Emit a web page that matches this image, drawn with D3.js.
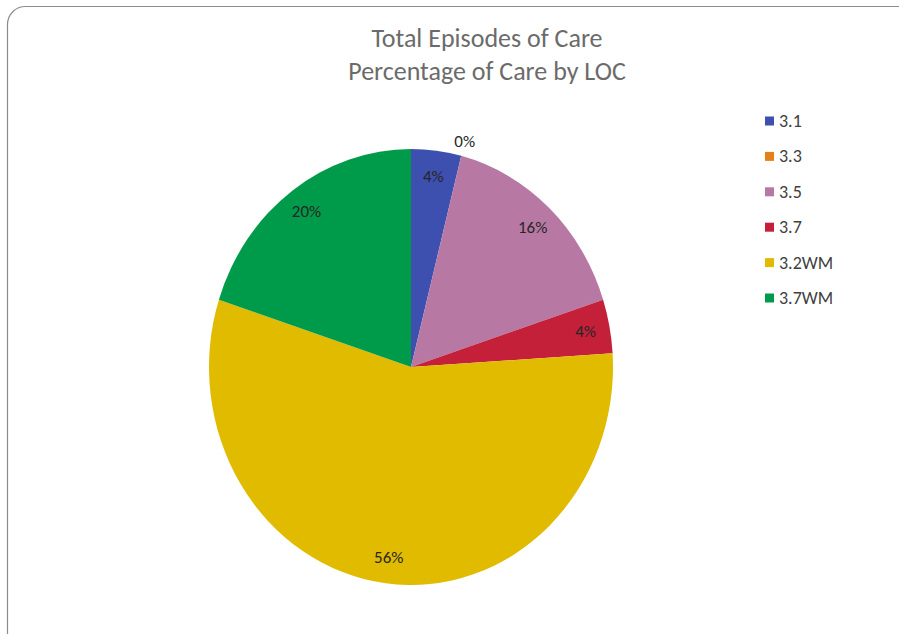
<!DOCTYPE html>
<html>
<head>
<meta charset="utf-8">
<script src="https://cdn.jsdelivr.net/npm/d3@7"></script>
<style>
  html, body { margin: 0; padding: 0; background: #fff; }
  svg { display: block; font-family: Carlito, Calibri, Lato, "Open Sans", sans-serif; }
</style>
</head>
<body>
<svg id="chart" width="899" height="634"></svg>
<script>
// Level-of-care categories and their share of total episodes (%)
const categories = ["3.1", "3.3", "3.5", "3.7", "3.2WM", "3.7WM"];
const shares = [4, 0, 16, 4, 56, 20];
const colors = ["#3d50b0", "#e3811c", "#b778a3", "#c5203a", "#e0bb00", "#009b4a"];
const titleLines = ["Total Episodes of Care", "Percentage of Care by LOC"];

const data = categories.map((c, i) => ({ cat: c, value: shares[i], color: colors[i] }));

const svg = d3.select("#chart");

// Chart frame
svg.append("rect")
  .attr("x", 7.5).attr("y", 6.5)
  .attr("width", 920).attr("height", 660)
  .attr("rx", 18).attr("ry", 18)
  .attr("fill", "#fff")
  .attr("stroke", "#8c8c8c")
  .attr("stroke-width", 1.2);

// Title
const title = svg.append("text")
  .attr("x", 487)
  .attr("text-anchor", "middle")
  .attr("fill", "#6b6b6b")
  .style("font-size", "26px");
title.selectAll("tspan")
  .data(titleLines)
  .join("tspan")
  .attr("x", 487)
  .attr("y", (d, i) => 47 + i * 33)
  .text(d => d);

// Pie (plot area is slightly taller than wide, so the pie is an ellipse)
const cx = 411, cy = 367, ry = 218, rx = 202;
const sx = rx / ry;

const pie = d3.pie().sort(null).value(d => d.value).startAngle(0).endAngle(2 * Math.PI);
const arcs = pie(data);
const arc = d3.arc().innerRadius(0).outerRadius(ry);

const gPie = svg.append("g")
  .attr("transform", `translate(${cx},${cy}) scale(${sx},1)`);
gPie.selectAll("path")
  .data(arcs)
  .join("path")
  .attr("d", arc)
  .attr("fill", d => d.data.color);

// Data labels: inside the slice, or just outside the rim for empty slices
const labelPos = d => {
  const a = (d.startAngle + d.endAngle) / 2;
  const k = d.data.value === 0 ? 1.07 : 0.88;
  return [cx + Math.sin(a) * ry * k * sx, cy - Math.cos(a) * ry * k];
};
svg.append("g")
  .selectAll("text")
  .data(arcs)
  .join("text")
  .attr("x", d => labelPos(d)[0])
  .attr("y", d => labelPos(d)[1])
  .attr("text-anchor", "middle")
  .attr("dominant-baseline", "central")
  .attr("fill", "#262626")
  .style("font-size", "17px")
  .text(d => d.data.value + "%");

// Legend
const legendY = d3.scalePoint().domain(categories).range([121, 298]);
const legend = svg.append("g")
  .selectAll("g")
  .data(data)
  .join("g")
  .attr("transform", d => `translate(765,${legendY(d.cat)})`);
legend.append("rect")
  .attr("x", 0).attr("y", -4.5)
  .attr("width", 9).attr("height", 9)
  .attr("fill", d => d.color);
legend.append("text")
  .attr("x", 14).attr("y", 0)
  .attr("dominant-baseline", "central")
  .attr("fill", "#404040")
  .style("font-size", "18px")
  .text(d => d.cat);
</script>
</body>
</html>
